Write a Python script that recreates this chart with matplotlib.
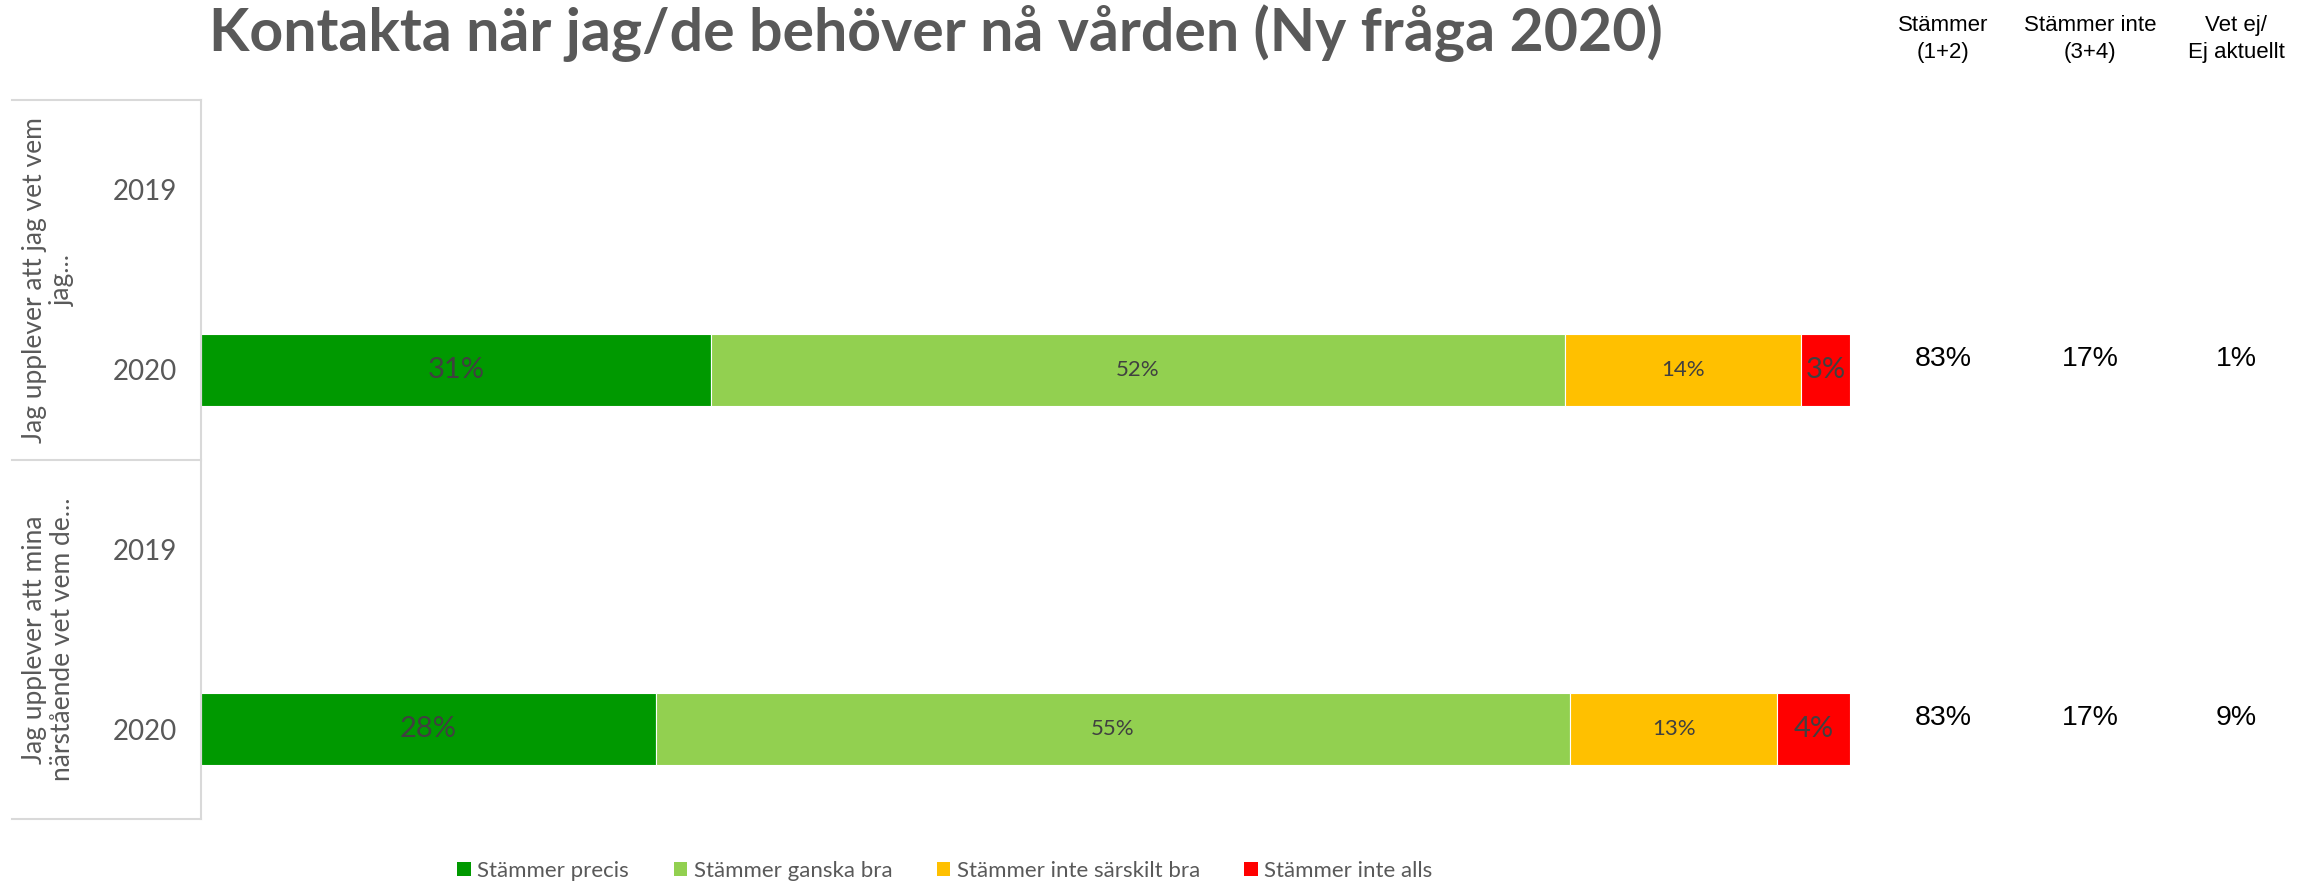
import numpy as np
import matplotlib.pyplot as plt
from matplotlib.patches import Patch
from matplotlib.transforms import blended_transform_factory

# --- Data ---
title = "Kontakta när jag/de behöver nå vården (Ny fråga 2020)"
questions = ["Jag upplever att jag vet vem\njag...",
             "Jag upplever att mina\nnärstående vet vem de..."]
years = ["2019", "2020", "2019", "2020"]
series_names = ["Stämmer precis", "Stämmer ganska bra",
                "Stämmer inte särskilt bra", "Stämmer inte alls"]

# only the 2020 rows carry answers (row index 1 and 3)
data_rows = [1, 3]
precis = [30.9, 27.6]
ganska_bra = [51.8, 55.4]
inte_sarskilt = [14.35, 12.6]
inte_alls = [2.95, 4.4]

summary_headers = ["Stämmer\n(1+2)", "Stämmer inte\n(3+4)", "Vet ej/\nEj aktuellt"]
stammer_12 = [83, 83]
stammer_inte = [17, 17]
vet_ej = [1, 9]

# --- Style ---
colors = ["#009900", "#92D050", "#FFC000", "#FF0000"]
label_sizes = [21, 16, 16, 21]
calibri = ["Lato", "DejaVu Sans"]
arial = ["Liberation Sans", "DejaVu Sans"]
grey = "#595959"

fig = plt.figure(figsize=(23.15, 8.86), dpi=100)
ax = fig.add_axes([201 / 2315, 1 - 819 / 886, (1850 - 201) / 2315, (819 - 100) / 886])

series = [precis, ganska_bra, inte_sarskilt, inte_alls]
left = np.zeros(len(data_rows))
for vals, col, fs in zip(series, colors, label_sizes):
    vals = np.array(vals)
    bars = ax.barh(data_rows, vals, left=left, height=0.4, color=col,
                   edgecolor="white", linewidth=0.8)
    ax.bar_label(bars, labels=[f"{v:.0f}%" for v in vals], label_type="center",
                 fontsize=fs, color="#404040", family=calibri)
    left += vals

ax.set_xlim(0, 100)
ax.set_ylim(3.5, -0.5)
ax.set_xticks([])
ax.set_yticks(range(len(years)))
ax.set_yticklabels(years, fontsize=20, color=grey, family=calibri)
ax.tick_params(axis="y", length=0, pad=17)
for s in ["top", "right", "bottom"]:
    ax.spines[s].set_visible(False)
ax.spines["left"].set_color("#D9D9D9")
ax.spines["left"].set_linewidth(1.5)

# group boxes on the category axis
tr = blended_transform_factory(ax.transAxes, ax.transData)
for yb in [-0.5, 1.5, 3.5]:
    ax.plot([-189 / 1649, 0], [yb, yb], transform=tr, color="#D9D9D9",
            lw=1.5, clip_on=False)
for i, q in enumerate(questions):
    ax.text(-153 / 1649, 2 * i + 0.5, q, transform=tr, rotation=90,
            ha="center", va="center", fontsize=19, color=grey,
            family=calibri, linespacing=1.15)

# title
fig.text(936 / 2315, 1 - 33 / 886, title, ha="center", va="center",
         fontsize=42.5, fontweight="bold", color=grey, family=calibri)

# summary columns on the right
col_x = [1943, 2090, 2236]
for x, h in zip(col_x, summary_headers):
    fig.text(x / 2315, 1 - 39 / 886, h, ha="center", va="center",
             fontsize=16, color="black", family=arial, linespacing=1.4)
trf = blended_transform_factory(fig.transFigure, ax.transData)
for x, vals in zip(col_x, [stammer_12, stammer_inte, vet_ej]):
    for r, v in zip(data_rows, vals):
        ax.text(x / 2315, r - 0.06, f"{v}%", transform=trf, ha="center",
                va="center", fontsize=20.5, color="black", family=arial)

# legend
handles = [Patch(facecolor=c, edgecolor="none") for c in colors]
fig.legend(handles, series_names, loc="center", ncol=4, frameon=False,
           bbox_to_anchor=(945 / 2315, 1 - 871 / 886),
           prop={"family": calibri, "size": 16}, labelcolor=grey,
           handlelength=0.6, handleheight=0.6, handletextpad=0.3,
           columnspacing=2.0)

fig.savefig("out.png", dpi=100)
